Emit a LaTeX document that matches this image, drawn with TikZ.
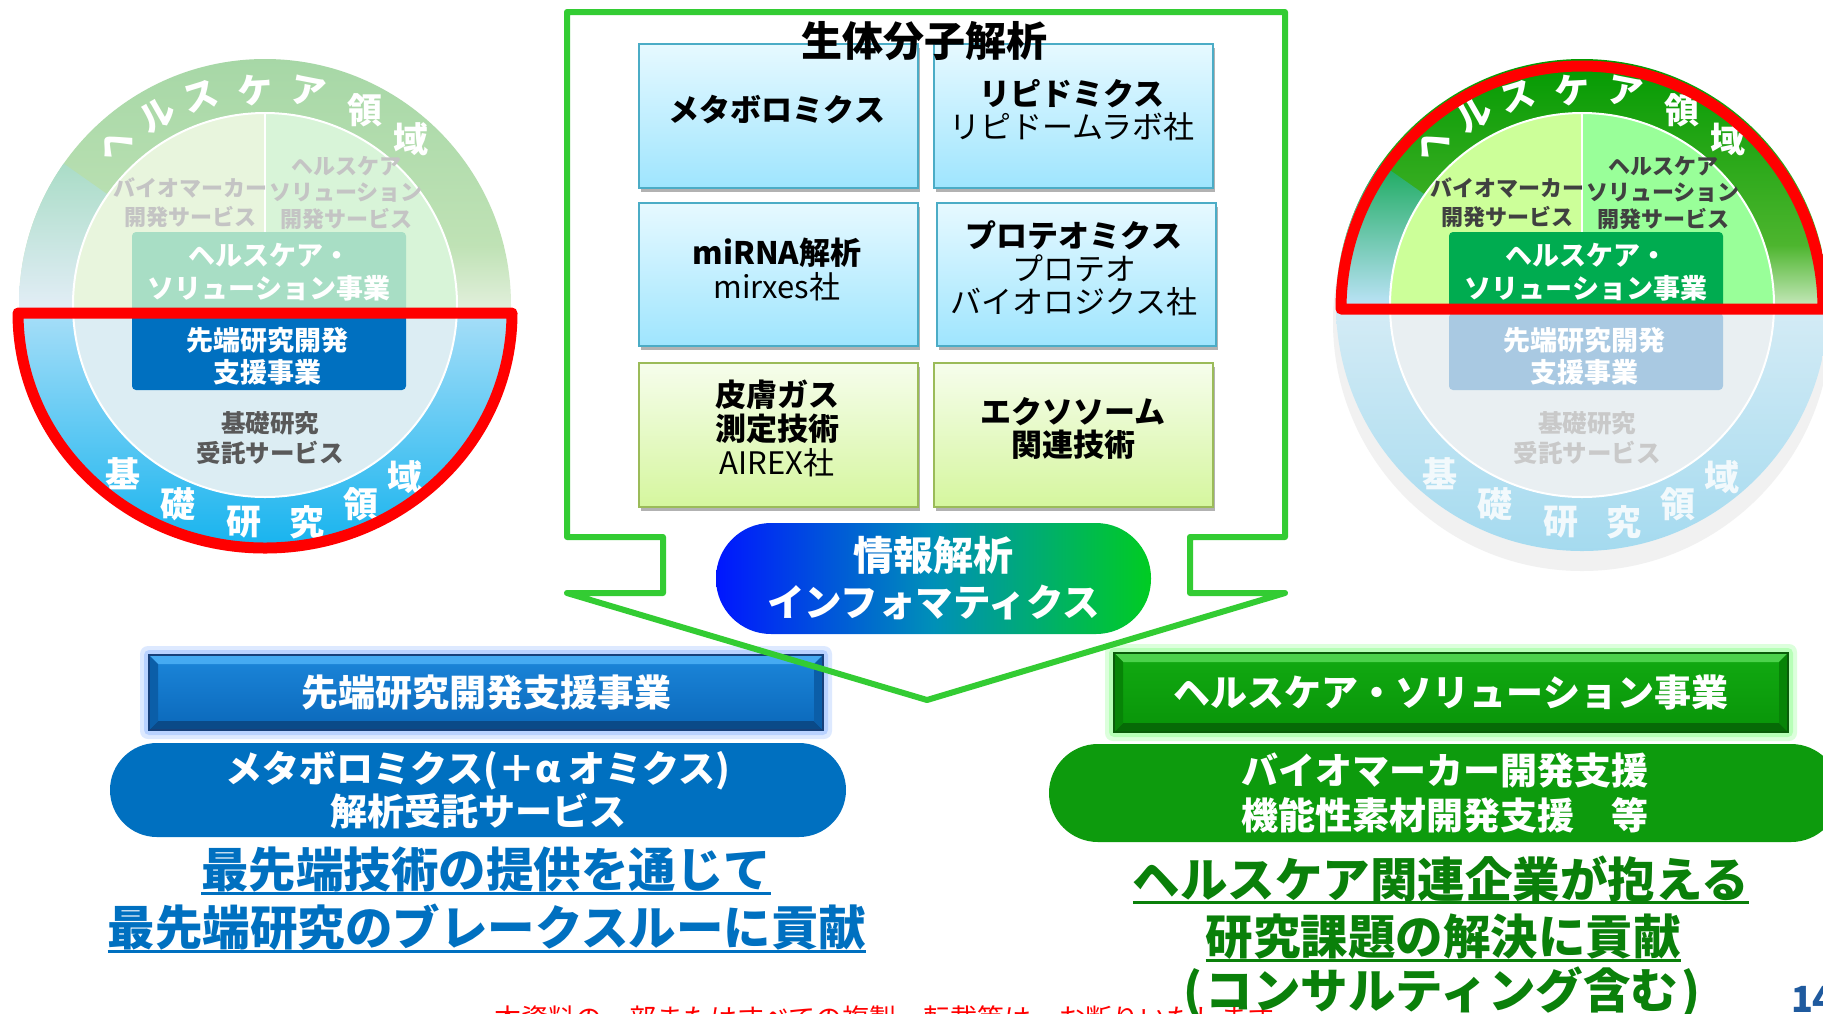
\documentclass[tikz,border=0pt]{standalone}
\usepackage{fontspec}
\setmainfont{Noto Sans CJK JP}
\usetikzlibrary{shadows,calc}

\definecolor{arrowgreen}{HTML}{33CC33}
\definecolor{redc}{HTML}{FF0000}
\definecolor{blueA}{HTML}{0070C0}
\definecolor{greenA}{HTML}{0D9B0D}
\definecolor{ulgreen}{HTML}{0A800A}
\definecolor{gbTop}{HTML}{E6F9FF}
\definecolor{gbBot}{HTML}{9FE5FE}
\definecolor{gbDraw}{HTML}{4BACC6}
\definecolor{ggTop}{HTML}{F6FDEC}
\definecolor{ggBot}{HTML}{D5F69E}
\definecolor{ggDraw}{HTML}{9BBB59}
\definecolor{infoL}{HTML}{0016FF}
\definecolor{infoM}{HTML}{0090B8}
\definecolor{infoR}{HTML}{00CC22}
\definecolor{barBtop}{HTML}{1C86DA}
\definecolor{barBbot}{HTML}{0A68BA}
\definecolor{bevBlight}{HTML}{45AAF2}
\definecolor{bevBdark}{HTML}{0A4A88}
\definecolor{bevBside}{HTML}{0B5EA8}
\definecolor{barBline}{HTML}{17407A}
\definecolor{glowB}{HTML}{8FB8FF}
\definecolor{barGtop}{HTML}{12AA12}
\definecolor{barGbot}{HTML}{089408}
\definecolor{bevGlight}{HTML}{4CD24C}
\definecolor{bevGdark}{HTML}{066A06}
\definecolor{bevGside}{HTML}{078407}
\definecolor{barGline}{HTML}{0A5C0A}
\definecolor{glowG}{HTML}{8CFF8C}
\definecolor{pgblue}{HTML}{1F5A9E}
\definecolor{shadowgrey}{HTML}{F1F1F1}

\newcommand\jfs[2]{\fontsize{#1}{#2}\selectfont}

\tikzset{
  every node/.style={inner sep=0pt, outer sep=0pt, align=center},
  ring/.style={font=\bfseries\jfs{35}{36}},
  smalltxt/.style={font=\bfseries\jfs{22}{29}},
  smalltxtb/.style={font=\bfseries\jfs{22}{26.5}},
  rbox/.style={rounded corners=4pt, font=\bfseries\jfs{27}{33}},
  boxtxt/.style={font=\bfseries\jfs{27}{32}},
  basetxt/.style={font=\bfseries\jfs{24.5}{30}},
  redline/.style={draw=redc, line width=11pt, line join=round},
  gridblue/.style={draw=gbDraw, line width=1.5pt, top color=gbTop, bottom color=gbBot,
     minimum width=279pt, minimum height=144pt,
     drop shadow={shadow xshift=2pt, shadow yshift=-4pt, opacity=.3, fill=black}},
  gridgreen/.style={draw=ggDraw, line width=1.5pt, top color=ggTop, bottom color=ggBot,
     minimum width=279pt, minimum height=144pt,
     drop shadow={shadow xshift=2pt, shadow yshift=-4pt, opacity=.3, fill=black}},
  gridtxt/.style={font=\jfs{31}{34}},
  bartxt/.style={text=white, font=\bfseries\jfs{37}{40}},
  pilltxt/.style={text=white, font=\bfseries\jfs{37}{43}},
  bigtxt/.style={font=\bfseries\jfs{47.5}{50}},
  arrowline/.style={draw=arrowgreen, line width=6pt, line join=round}
}

\newcommand\hcircle[1]{%
  \begin{scope}
    \clip (0,0) circle (246pt);
    \shade[top color=RTa, bottom color=RTb] (-250,-250) rectangle (250,-60);
    \shade[top color=RTb, bottom color=RTc] (-250,-60) rectangle (250,8);
    \shade[top color=WDa, bottom color=WDb] (0,0) -- (-205,-144) -- (-250,-144) -- (-250,8) -- (0,8) -- cycle;
    \shade[top color=RBa, bottom color=RBb] (-250,8) rectangle (250,250);
    \clip (0,0) circle (192pt);
    \fill[QL] (-200,-200) rectangle (0,8);
    \fill[QR] (0,-200) rectangle (200,8);
    \fill[IB] (-200,8) rectangle (200,200);
  \end{scope}
  \draw[white, line width=2pt] (0,0) circle (192pt);
  \draw[white, line width=2pt] (0,-192) -- (0,-73);
  \node[rbox, fill=HB, text=HT, minimum width=274pt, minimum height=81pt] (#1hsbox) at (4,-32.5) {ヘルスケア・\\ソリューション事業};
  \node[rbox, fill=AB, minimum width=274pt, minimum height=77pt] (#1advbox) at (4,46.5) {};
  \node[boxtxt, text=AT] (#1advtxt) at (2,51) {先端研究開発\\支援事業};
  \node[smalltxt, text=GT] (#1bio) at (-75,-102.5) {バイオマーカー\\開発サービス};
  \node[smalltxtb, text=GT] (#1hsdev) at (81,-112.5) {ヘルスケア\\ソリューション\\開発サービス};
  \node[basetxt, text=BT] (#1base) at (5,133) {基礎研究\\受託サービス};
  \node[ring, text=TL, rotate=43] (#1t1) at (-149,-160) {ヘ};
  \node[ring, text=TL, rotate=30] (#1t2) at (-108,-190) {ル};
  \node[ring, text=TL, rotate=17] (#1t3) at (-64,-208) {ス};
  \node[ring, text=TL, rotate=3] (#1t4) at (-10,-215) {ケ};
  \node[ring, text=TL, rotate=-11] (#1t5) at (43,-213) {ア};
  \node[ring, text=TL] (#1t6) at (100,-195) {領};
  \node[ring, text=TL] (#1t7) at (146,-166) {域};
  \node[ring, text=BL] (#1b1) at (-142,169) {基};
  \node[ring, text=BL] (#1b2) at (-87,199) {礎};
  \node[ring, text=BL] (#1b3) at (-21,217) {研};
  \node[ring, text=BL] (#1b4) at (42,217) {究};
  \node[ring, text=BL] (#1b5) at (96,199) {領};
  \node[ring, text=BL] (#1b6) at (140,172) {域};
}

\begin{document}
\begin{tikzpicture}[x=1pt,y=-1pt]
\useasboundingbox (0,0) rectangle (1823,1013);
\fill[white] (0,0) rectangle (1823,1013);
\begin{scope}
\clip (0,0) rectangle (1823,1013);

% ---------- left circle ----------
\definecolor{RTa}{HTML}{A6D7A6}\definecolor{RTb}{HTML}{BFE2B5}\definecolor{RTc}{HTML}{E4F0DE}
\definecolor{WDa}{HTML}{A9DCC6}\definecolor{WDb}{HTML}{E4EEF8}
\definecolor{RBa}{HTML}{A6DEF8}\definecolor{RBb}{HTML}{12B2EE}
\definecolor{QL}{HTML}{E8F5DD}\definecolor{QR}{HTML}{D8F4D8}\definecolor{IB}{HTML}{DCEDF3}
\definecolor{HB}{HTML}{A8DEC5}\definecolor{HT}{HTML}{FFFFFF}
\definecolor{AB}{HTML}{0070C0}\definecolor{AT}{HTML}{FFFFFF}
\definecolor{GT}{HTML}{C4C4C4}\definecolor{BT}{HTML}{595959}
\definecolor{TL}{HTML}{FFFFFF}\definecolor{BL}{HTML}{FFFFFF}
\begin{scope}[shift={(265,305)}]
  \hcircle{L}
\end{scope}
\draw[redline] (18,313) -- (512,313) arc[start angle=0, end angle=-180, x radius=247pt, y radius=235pt] -- cycle;

% ---------- right circle ----------
\definecolor{RTa}{HTML}{009900}\definecolor{RTb}{HTML}{4DB52E}\definecolor{RTc}{HTML}{D4EECB}
\definecolor{WDa}{HTML}{18A95C}\definecolor{WDb}{HTML}{C4E6FF}
\definecolor{RBa}{HTML}{D3EBF5}\definecolor{RBb}{HTML}{A4DAEF}
\definecolor{QL}{HTML}{CCFF99}\definecolor{QR}{HTML}{99FF99}\definecolor{IB}{HTML}{E9EFF2}
\definecolor{HB}{HTML}{00AC50}\definecolor{HT}{HTML}{FFFFFF}
\definecolor{AB}{HTML}{A9C9E2}\definecolor{AT}{HTML}{FFFFFF}
\definecolor{GT}{HTML}{404040}\definecolor{BT}{HTML}{C9C9C9}
\definecolor{TL}{HTML}{FFFFFF}\definecolor{BL}{HTML}{F2F9FC}
\begin{scope}[shift={(1582,305)}]
  \fill[shadowgrey] (0,17) circle (249pt);
  \hcircle{R}
\end{scope}
\draw[redline] (1341,309) arc[start angle=180, end angle=0, x radius=241pt, y radius=243pt] -- cycle;

% ---------- center grid ----------
\node[gridblue] (b1) at (778.5,116) {};
\node[gridblue] (b2) at (1073.5,116) {};
\node[gridblue, minimum height=143pt] (b3) at (778.5,274.5) {};
\node[gridblue, minimum height=143pt] (b4) at (1076.5,274.5) {};
\node[gridgreen] (b5) at (778.5,435) {};
\node[gridgreen] (b6) at (1073.5,435) {};
\node[gridtxt] (b1t) at (777,110) {\bfseries メタボロミクス};
\node[gridtxt, font=\jfs{31}{33}] (b2t) at (1072,110) {{\bfseries リピドミクス}\\リピドームラボ社};
\node[gridtxt] (b3t) at (777,269) {{\bfseries miRNA解析}\\mirxes社};
\node[gridtxt, font=\jfs{31}{33}] (b4t) at (1074,268) {{\bfseries プロテオミクス}\\プロテオ\\バイオロジクス社};
\node[gridtxt] (b5t) at (777,428) {{\bfseries 皮膚ガス}\\{\bfseries 測定技術}\\AIREX社};
\node[gridtxt, font=\bfseries\jfs{31}{33}] (b6t) at (1073,428) {エクソソーム\\関連技術};
\node[font=\bfseries\jfs{41}{44}] (title) at (924,41) {生体分子解析};

% ---------- informatics pill ----------
\node[minimum width=435pt, minimum height=111pt, rounded corners=55pt,
      left color=infoL, right color=infoR, middle color=infoM,
      text=white, font=\bfseries\jfs{40}{46}] (info) at (933.5,578.5)
      {情報解析\\{\jfs{37.5}{46}インフォマティクス}};

% ---------- blue bar ----------
\fill[glowB, opacity=.3, rounded corners=8pt] (140,646) rectangle (832,739);
\fill[glowB, opacity=.45, rounded corners=5pt] (144,650) rectangle (828,735);
\node[bartxt, top color=barBtop, bottom color=barBbot, minimum width=674pt, minimum height=75pt] (bluebar) at (486,692.5) {先端研究開発支援事業};
\fill[bevBlight] (bluebar.north west) -- (bluebar.north east) -- ++(-9,9) -- ($(bluebar.north west)+(9,9)$) -- cycle;
\fill[bevBdark] (bluebar.south west) -- (bluebar.south east) -- ++(-9,-9) -- ($(bluebar.south west)+(9,-9)$) -- cycle;
\fill[bevBside] (bluebar.north west) -- ($(bluebar.north west)+(9,9)$) -- ($(bluebar.south west)+(9,-9)$) -- (bluebar.south west) -- cycle;
\fill[bevBside] (bluebar.north east) -- ($(bluebar.north east)+(-9,9)$) -- ($(bluebar.south east)+(-9,-9)$) -- (bluebar.south east) -- cycle;
\draw[barBline, line width=1.5pt] (bluebar.north west) rectangle (bluebar.south east);

% ---------- green bar ----------
\fill[glowG, opacity=.3, rounded corners=8pt] (1105,644) rectangle (1797,741);
\fill[glowG, opacity=.45, rounded corners=5pt] (1109,648) rectangle (1793,737);
\node[bartxt, top color=barGtop, bottom color=barGbot, minimum width=674pt, minimum height=79pt] (greenbar) at (1451,692.5) {ヘルスケア・ソリューション事業};
\fill[bevGlight] (greenbar.north west) -- (greenbar.north east) -- ++(-9,9) -- ($(greenbar.north west)+(9,9)$) -- cycle;
\fill[bevGdark] (greenbar.south west) -- (greenbar.south east) -- ++(-9,-9) -- ($(greenbar.south west)+(9,-9)$) -- cycle;
\fill[bevGside] (greenbar.north west) -- ($(greenbar.north west)+(9,9)$) -- ($(greenbar.south west)+(9,-9)$) -- (greenbar.south west) -- cycle;
\fill[bevGside] (greenbar.north east) -- ($(greenbar.north east)+(-9,9)$) -- ($(greenbar.south east)+(-9,-9)$) -- (greenbar.south east) -- cycle;
\draw[barGline, line width=1.5pt] (greenbar.north west) rectangle (greenbar.south east);

% ---------- pills ----------
\node[pilltxt, fill=blueA, minimum width=736pt, minimum height=94pt, rounded corners=47pt] (bluepill) at (478,790)
   {メタボロミクス(＋α オミクス)\\解析受託サービス};
\node[pilltxt, font=\bfseries\jfs{37}{45}, fill=greenA, minimum width=791pt, minimum height=98pt, rounded corners=49pt] (greenpill) at (1444.5,793)
   {バイオマーカー開発支援\\機能性素材開発支援　等};

% ---------- footer ----------
\node[anchor=north west, text=redc, font=\jfs{27}{30}] (foot) at (494,1006) {本資料の一部またはすべての複製・転載等は、お断りいたします};
\node[anchor=west, text=pgblue, font=\bfseries\jfs{36}{40}] (pg) at (1791,999) {14};

% ---------- underlined messages ----------
\node[bigtxt, text=blueA] (bl1) at (486,870) {最先端技術の提供を通じて};
\draw[blueA, line width=3pt] ($(bl1.west)+(0,23)$) -- ($(bl1.east)+(0,23)$);
\node[bigtxt, text=blueA] (bl2) at (487,927) {最先端研究のブレークスルーに貢献};
\draw[blueA, line width=3pt] ($(bl2.west)+(0,24)$) -- ($(bl2.east)+(0,24)$);
\node[bigtxt, text=ulgreen] (gl1) at (1441,879) {ヘルスケア関連企業が抱える};
\draw[ulgreen, line width=3pt] ($(gl1.west)+(0,23)$) -- ($(gl1.east)+(0,23)$);
\node[bigtxt, text=ulgreen] (gl2) at (1443,937) {研究課題の解決に貢献};
\draw[ulgreen, line width=3pt] ($(gl2.west)+(0,23)$) -- ($(gl2.east)+(0,23)$);
\node[bigtxt, text=ulgreen] (gl3) at (1442,992) {(\kern3ptコンサルティング含む\kern3pt)};

% ---------- green arrow outline ----------
\draw[arrowline] (567,12) -- (1285,12) -- (1285,537) -- (1190,537) -- (1190,593) -- (1285,593)
  -- (927,700) -- (567,593) -- (663,593) -- (663,537) -- (567,537) -- cycle;
\end{scope}
\end{tikzpicture}
\end{document}
